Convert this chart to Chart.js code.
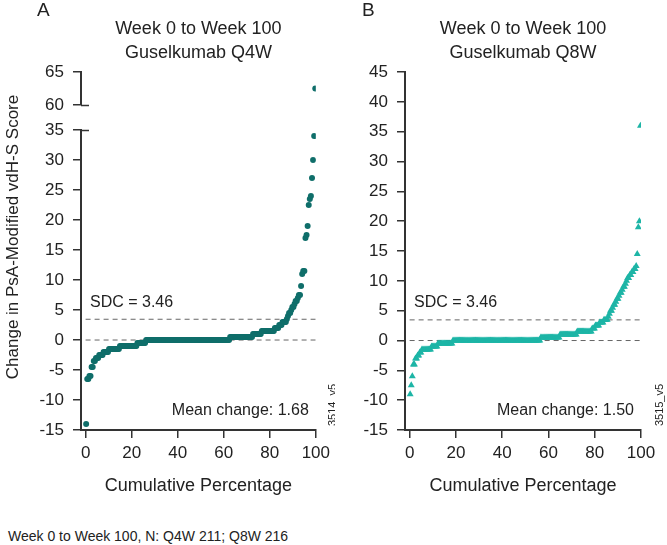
<!DOCTYPE html>
<html>
<head>
<meta charset="utf-8">
<script src="https://cdn.jsdelivr.net/npm/chart.js@4.4.1/dist/chart.umd.min.js"></script>
<style>
  body { margin: 0; background: #fff; width: 667px; height: 545px; overflow: hidden; position: relative; font-family: "Liberation Sans", Arial, sans-serif; }
  #boxA { position: absolute; left: 0; top: 0; width: 335px; height: 510px; }
  #boxB { position: absolute; left: 335px; top: 0; width: 332px; height: 510px; }
  #note { position: absolute; left: 8px; top: 528px; font-size: 14px; color: #222; }
</style>
</head>
<body>
<div id="boxA"><canvas id="chartA"></canvas></div>
<div id="boxB"><canvas id="chartB"></canvas></div>
<div id="note">Week 0 to Week 100, N: Q4W 211; Q8W 216</div>
<script>
// sorted change scores, each with how many patients had it
const q4wValues = [-14, -6.5, -6, -4.5, -3.5, -3, -2.5, -2, -1.5, -1, -0.5, 0, 0.5, 1, 1.5, 2, 2.5, 3,
  3.5, 4, 4.5, 5, 5.5, 6, 6.5, 7, 7.5, 9, 11, 11.5, 17, 17.5, 19, 22.5, 23.5, 24, 27, 30, 34, 62.5];
const q4wCounts = [1, 2, 2, 2, 2, 3, 4, 5, 10, 16, 8, 77, 21, 8, 12, 4, 3, 4,
  1, 1, 2, 1, 2, 1, 2, 1, 2, 1, 1, 2, 1, 1, 1, 1, 1, 1, 1, 1, 1, 1];

const q8wValues = [-9, -7.5, -6, -4, -3, -2.5, -2, -1.5, -1, -0.5, 0, 0.5, 1, 1.5, 2, 2.5, 3, 3.5,
  4, 4.5, 5, 5.5, 6, 6.5, 7, 7.5, 8, 8.5, 9, 9.5, 10, 10.5, 11, 11.5, 12, 12.5, 14.5, 19, 20, 36];
const q8wCounts = [1, 1, 1, 2, 2, 2, 2, 9, 6, 14, 82, 18, 16, 14, 3, 4, 4, 4,
  1, 1, 2, 1, 2, 1, 2, 1, 2, 1, 2, 1, 1, 2, 2, 2, 2, 1, 1, 1, 1, 1];

const xTicks = [0, 20, 40, 60, 80, 100];
const yTicksA = [-15, -10, -5, 0, 5, 10, 15, 20, 25, 30, 35];
const yTicksATop = [60, 65];
const yTicksB = [-15, -10, -5, 0, 5, 10, 15, 20, 25, 30, 35, 40, 45];
const sdc = 3.46;
const meanA = '1.68';
const meanB = '1.50';

const family = '"Liberation Sans", Arial, sans-serif';
const ink = '#222';

function cumulative(values, counts) {
  const n = counts.reduce((a, b) => a + b, 0);
  const pts = [];
  values.forEach((v, k) => {
    for (let j = 0; j < counts[k]; j++) pts.push({ x: (pts.length + 0.5) / n * 100, y: v });
  });
  return pts;
}

function fixedTicks(list) {
  return s => { s.ticks = list.map(v => ({ value: v })); };
}

function axisLook(pad) {
  return {
    border: { display: true, color: '#333', width: 2 },
    grid: { display: true, drawOnChartArea: false, drawTicks: true, tickLength: 8, color: '#333', lineWidth: 1.5 },
    ticks: { color: ink, padding: pad, autoSkip: false, maxRotation: 0, font: { size: 17, family: family } }
  };
}

function refLines() {
  return [sdc, 0].map(v => ({
    data: [{ x: 0, y: v }, { x: 100, y: v }],
    showLine: true, pointRadius: 0, borderColor: '#666', borderWidth: 1,
    borderDash: [5, 4], yAxisID: 'y'
  }));
}

const notes = {
  id: 'notes',
  afterDraw(chart, args, o) {
    const { ctx, chartArea, scales } = chart;
    const y = scales.y;
    ctx.save();
    ctx.fillStyle = ink;
    ctx.textBaseline = 'middle';
    ctx.textAlign = 'left';
    ctx.font = '19px ' + family;
    ctx.fillText(o.letter, o.letterX, 11);
    ctx.font = '16px ' + family;
    ctx.fillText('SDC = ' + sdc.toFixed(2), chartArea.left + 9, y.getPixelForValue(sdc) - 17);
    ctx.textAlign = 'right';
    ctx.fillText('Mean change: ' + o.mean, chartArea.right - 7, y.getPixelForValue(-15) - 19);

    // axis break marks
    ctx.strokeStyle = '#333';
    ctx.lineWidth = 1.5;
    (o.breaks || []).forEach(b => {
      const sc = scales[b.axis];
      const py = Math.round(sc.getPixelForValue(b.value)) + 0.5;
      ctx.beginPath();
      ctx.moveTo(sc.right, py);
      ctx.lineTo(sc.right + 8, py);
      ctx.stroke();
    });

    ctx.save();
    ctx.translate(o.idX, chartArea.bottom - 25);
    ctx.rotate(-Math.PI / 2);
    ctx.textAlign = 'center';
    ctx.font = '11px ' + family;
    ctx.fillText(o.id, 0, 0);
    ctx.restore();

    if (o.yTitle) {
      ctx.save();
      ctx.translate(13, 237);
      ctx.rotate(-Math.PI / 2);
      ctx.textAlign = 'center';
      ctx.font = '17px ' + family;
      ctx.fillText(o.yTitle, 0, 0);
      ctx.restore();
    }
    ctx.restore();
  }
};

function xAxis() {
  return Object.assign(axisLook(5), {
    type: 'linear', min: -2, max: 100,
    afterBuildTicks: fixedTicks(xTicks),
    afterFit: s => { s.height = 71; },
    title: { display: true, text: 'Cumulative Percentage', color: ink, font: { size: 18, family: family }, padding: { top: 4, bottom: 4 } }
  });
}

function titleOpts(sub) {
  return {
    display: true, text: ['Week 0 to Week 100', sub], fullSize: false, color: ink,
    font: { size: 18, weight: 'normal', family: family, lineHeight: 1.28 },
    padding: { top: 18, bottom: 8 }
  };
}

// Panel A
const ptsA = cumulative(q4wValues, q4wCounts);
new Chart(document.getElementById('chartA'), {
  type: 'scatter',
  data: {
    datasets: [
      { data: ptsA.filter(p => p.y < 40), yAxisID: 'y', pointRadius: 3, pointHoverRadius: 3, backgroundColor: '#0f6e6a', borderWidth: 0 },
      { data: ptsA.filter(p => p.y >= 40), yAxisID: 'yTop', pointRadius: 3, pointHoverRadius: 3, backgroundColor: '#0f6e6a', borderWidth: 0 },
      ...refLines()
    ]
  },
  options: {
    responsive: true, maintainAspectRatio: false, animation: false, devicePixelRatio: 1,
    layout: { padding: { left: 0, right: 18, top: 0, bottom: 9 } },
    scales: {
      x: xAxis(),
      yTop: Object.assign(axisLook(9), {
        type: 'linear', position: 'left', stack: 'a', stackWeight: 33, weight: 3, min: 60, max: 65,
        afterBuildTicks: fixedTicks(yTicksATop), afterFit: s => { s.width = 81; }
      }),
      yGap: {
        type: 'linear', position: 'left', stack: 'a', stackWeight: 25, weight: 2, min: 35, max: 60,
        ticks: { display: false }, grid: { display: false }, border: { display: false },
        afterFit: s => { s.width = 81; }
      },
      y: Object.assign(axisLook(9), {
        type: 'linear', position: 'left', stack: 'a', stackWeight: 300, weight: 1, min: -15, max: 35,
        afterBuildTicks: fixedTicks(yTicksA), afterFit: s => { s.width = 81; }
      })
    },
    plugins: {
      legend: { display: false }, tooltip: { enabled: false },
      title: titleOpts('Guselkumab Q4W'),
      notes: { letter: 'A', letterX: 37, mean: meanA, id: '3514_v5', idX: 333,
        yTitle: 'Change in PsA-Modified vdH-S Score',
        breaks: [{ axis: 'yTop', value: 60 }, { axis: 'y', value: 35 }] }
    }
  },
  plugins: [notes]
});

// Panel B
const ptsB = cumulative(q8wValues, q8wCounts);
new Chart(document.getElementById('chartB'), {
  type: 'scatter',
  data: {
    datasets: [
      { data: ptsB, yAxisID: 'y', pointStyle: 'triangle', pointRadius: 4, pointHoverRadius: 4, backgroundColor: '#1db5a6', borderWidth: 0 },
      ...refLines()
    ]
  },
  options: {
    responsive: true, maintainAspectRatio: false, animation: false, devicePixelRatio: 1,
    layout: { padding: { left: 0, right: 26, top: 0, bottom: 9 } },
    scales: {
      x: xAxis(),
      y: Object.assign(axisLook(9), {
        type: 'linear', position: 'left', min: -15, max: 45,
        afterBuildTicks: fixedTicks(yTicksB), afterFit: s => { s.width = 70; }
      })
    },
    plugins: {
      legend: { display: false }, tooltip: { enabled: false },
      title: titleOpts('Guselkumab Q8W'),
      notes: { letter: 'B', letterX: 27, mean: meanB, id: '3515_v5', idX: 325 }
    }
  },
  plugins: [notes]
});
</script>
</body>
</html>
